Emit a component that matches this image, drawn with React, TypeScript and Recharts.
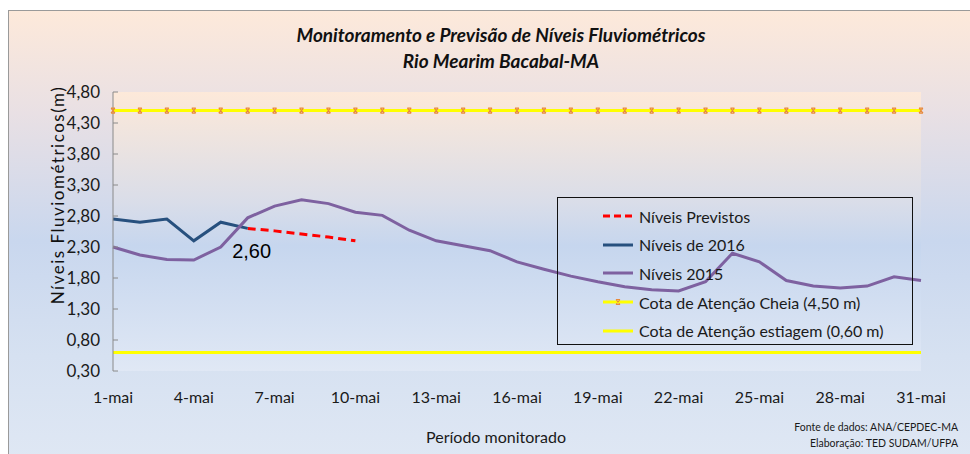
import { LineChart, Line, XAxis, YAxis, CartesianGrid, Legend, LabelList } from 'recharts';

// categorias (dias de maio)
const days = [
  '1-mai', '2-mai', '3-mai', '4-mai', '5-mai', '6-mai', '7-mai', '8-mai', '9-mai', '10-mai',
  '11-mai', '12-mai', '13-mai', '14-mai', '15-mai', '16-mai', '17-mai', '18-mai', '19-mai', '20-mai',
  '21-mai', '22-mai', '23-mai', '24-mai', '25-mai', '26-mai', '27-mai', '28-mai', '29-mai', '30-mai',
  '31-mai',
];

const niveis2016 = [2.75, 2.7, 2.75, 2.4, 2.7, 2.6];
// previsão começa no último dia observado (6-mai)
const previstosInicio = 5;
const niveisPrevistos = [2.6, 2.56, 2.51, 2.46, 2.4];
const niveis2015 = [
  2.3, 2.17, 2.1, 2.09, 2.3, 2.77, 2.96, 3.06, 3.0, 2.86,
  2.81, 2.57, 2.4, 2.32, 2.24, 2.06, 1.94, 1.83, 1.74, 1.66,
  1.61, 1.59, 1.74, 2.2, 2.06, 1.76, 1.67, 1.64, 1.67, 1.82,
  1.76,
];
const cotaCheia = 4.5;
const cotaEstiagem = 0.6;
const yTicks = [0.3, 0.8, 1.3, 1.8, 2.3, 2.8, 3.3, 3.8, 4.3, 4.8];

const data = days.map((day, i) => ({
  day,
  n2016: i < niveis2016.length ? niveis2016[i] : null,
  previstos:
    i >= previstosInicio && i < previstosInicio + niveisPrevistos.length
      ? niveisPrevistos[i - previstosInicio]
      : null,
  n2015: niveis2015[i],
  cheia: cotaCheia,
  estiagem: cotaEstiagem,
}));

const FONT = 'Lato, "Open Sans", sans-serif';
const fmt = (v: number) => v.toFixed(2).replace('.', ',');

const legendItems = [
  { label: 'Níveis Previstos', color: '#ff0000', dash: '7 4', marker: false },
  { label: 'Níveis de 2016', color: '#27507e', dash: undefined, marker: false },
  { label: 'Níveis 2015', color: '#7e61a0', dash: undefined, marker: false },
  { label: 'Cota de Atenção Cheia (4,50 m)', color: '#ffff00', dash: undefined, marker: true },
  { label: 'Cota de Atenção estiagem (0,60 m)', color: '#ffff00', dash: undefined, marker: false },
];

function XMark(props: any) {
  const { cx, cy } = props;
  if (cx == null || cy == null) return null;
  return (
    <path
      d={`M${cx - 2},${cy - 2.5}L${cx + 2},${cy + 2.5}M${cx + 2},${cy - 2.5}L${cx - 2},${cy + 2.5}M${cx - 2},${cy - 2.5}H${cx + 2}M${cx - 2},${cy + 2.5}H${cx + 2}`}
      stroke="#e8893a"
      strokeWidth={1.1}
      fill="none"
    />
  );
}

function XTick(props: any) {
  const { x, y, payload } = props;
  return (
    <text x={x} y={y + 32} textAnchor="middle" fontSize={16} fill="#1a1a1a" fontFamily={FONT}>
      {payload.value}
    </text>
  );
}

function YTick(props: any) {
  const { x, y, payload } = props;
  return (
    <g>
      <line x1={x} x2={x + 5} y1={y} y2={y} stroke="#8a8a8a" strokeWidth={1} />
      <text x={x - 13} y={y + 6} textAnchor="end" fontSize={17} fill="#1a1a1a" fontFamily={FONT}>
        {fmt(payload.value)}
      </text>
    </g>
  );
}

function ValueLabel(props: any) {
  const { x, y, value, index } = props;
  if (index !== niveis2016.length - 1) return null;
  return (
    <text x={x + 4} y={y + 30} textAnchor="middle" fontSize={20} fill="#000" fontFamily="Liberation Sans, Arial, sans-serif">
      {fmt(value)}
    </text>
  );
}

function LegendBox() {
  return (
    <div style={{ fontFamily: FONT, fontSize: 16, color: '#1a1a1a', paddingTop: 4 }}>
      {legendItems.map((it) => (
        <div key={it.label} style={{ display: 'flex', alignItems: 'center', height: 28.6 }}>
          <svg width={81} height={12} style={{ flex: 'none' }}>
            <line x1={45} x2={75} y1={6} y2={6} stroke={it.color} strokeWidth={3} strokeDasharray={it.dash} />
            {it.marker && <XMark cx={60} cy={6} />}
          </svg>
          <span style={{ whiteSpace: 'nowrap' }}>{it.label}</span>
        </div>
      ))}
    </div>
  );
}

export default function App() {
  return (
    <div style={{ position: 'absolute', left: 0, top: 0, width: 970, height: 454, overflow: 'hidden', background: '#fff' }}>
      <div
        style={{
          position: 'absolute',
          left: 8,
          top: 10,
          width: 980,
          height: 460,
          borderTop: '1.5px solid #9a9a9a',
          borderLeft: '1.5px solid #9a9a9a',
          background: 'linear-gradient(180deg, #fde9da 0%, #e9e0e4 22%, #c9d7ee 50%, #d6e1f1 75%, #e0e8f4 100%)',
        }}
      />
      <div style={{ position: 'absolute', left: 0, top: 0 }}>
        <LineChart width={970} height={454} data={data} margin={{ top: 92, right: 49, left: 0, bottom: 0 }}>
          <defs>
            <linearGradient id="plotBg" x1="0" y1="0" x2="0" y2="1">
              <stop offset="0%" stopColor="#fde9d9" />
              <stop offset="40%" stopColor="#d9dde9" />
              <stop offset="55%" stopColor="#c6d6ee" />
              <stop offset="100%" stopColor="#e0e8f5" />
            </linearGradient>
          </defs>
          <CartesianGrid horizontal={false} vertical={false} fill="url(#plotBg)" />
          <XAxis
            dataKey="day"
            scale="point"
            interval={2}
            height={83}
            axisLine={false}
            tickLine={false}
            tickSize={0}
            tickMargin={0}
            tick={<XTick />}
          />
          <YAxis
            width={113}
            domain={[0.3, 4.8]}
            ticks={yTicks}
            allowDataOverflow
            axisLine={{ stroke: '#8a8a8a' }}
            tickLine={false}
            tickSize={0}
            tickMargin={0}
            tick={<YTick />}
          />
          <Legend
            layout="vertical"
            align="center"
            verticalAlign="middle"
            content={<LegendBox />}
            wrapperStyle={{
              left: 557,
              top: 197,
              width: 356,
              height: 148,
              border: '1px solid #111',
              boxSizing: 'border-box',
            }}
          />
          <Line
            dataKey="previstos"
            name="Níveis Previstos"
            stroke="#ff0000"
            strokeWidth={3}
            strokeDasharray="8 5"
            dot={false}
            isAnimationActive={false}
          />
          <Line
            dataKey="n2016"
            name="Níveis de 2016"
            stroke="#27507e"
            strokeWidth={3}
            dot={false}
            isAnimationActive={false}
          >
            <LabelList dataKey="n2016" content={<ValueLabel />} />
          </Line>
          <Line
            dataKey="n2015"
            name="Níveis 2015"
            stroke="#7e61a0"
            strokeWidth={3}
            dot={false}
            isAnimationActive={false}
          />
          <Line
            dataKey="cheia"
            name="Cota de Atenção Cheia (4,50 m)"
            stroke="#ffff00"
            strokeWidth={3}
            dot={<XMark />}
            isAnimationActive={false}
          />
          <Line
            dataKey="estiagem"
            name="Cota de Atenção estiagem (0,60 m)"
            stroke="#ffff00"
            strokeWidth={3}
            dot={false}
            isAnimationActive={false}
          />
        </LineChart>
      </div>
      <svg width={970} height={454} style={{ position: 'absolute', left: 0, top: 0, pointerEvents: 'none' }} fontFamily={FONT}>
        <text x={501} y={42} textAnchor="middle" fontSize={19} fontWeight="bold" fontStyle="italic" fill="#111">
          Monitoramento  e Previsão  de Níveis Fluviométricos
        </text>
        <text x={501} y={68} textAnchor="middle" fontSize={19} fontWeight="bold" fontStyle="italic" fill="#111">
          Rio Mearim  Bacabal-MA
        </text>
        <text
          x={57}
          y={195}
          transform="rotate(-90 57 195)"
          textAnchor="middle"
          dominantBaseline="central"
          fontSize={17}
          letterSpacing={1.5}
          fill="#111"
        >
          Níveis Fluviométricos(m)
        </text>
        <text x={496} y={443} textAnchor="middle" fontSize={16} fill="#1a1a1a">
          Período monitorado
        </text>
        <text x={958} y={431} textAnchor="end" fontSize={10.5} fill="#1a1a1a">
          Fonte de dados: ANA/CEPDEC-MA
        </text>
        <text x={958} y={447} textAnchor="end" fontSize={10.5} fill="#1a1a1a">
          Elaboração: TED SUDAM/UFPA
        </text>
      </svg>
    </div>
  );
}
